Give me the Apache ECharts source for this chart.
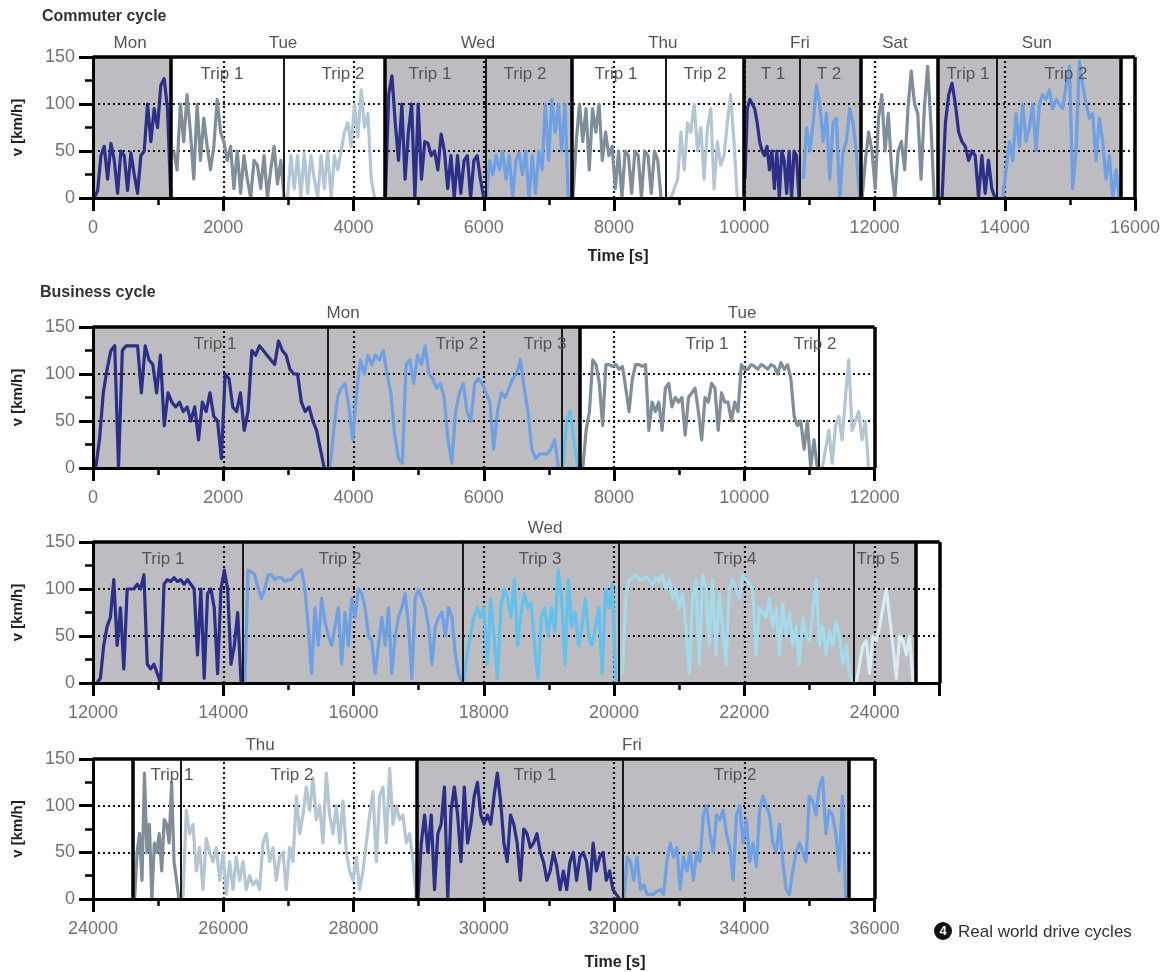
<!DOCTYPE html>
<html>
<head>
<meta charset="utf-8">
<script src="https://cdn.jsdelivr.net/npm/echarts@6/dist/echarts.min.js"></script>
<style>
  html, body { margin: 0; padding: 0; background: #ffffff; }
  #chart { width: 1168px; height: 972px; }
</style>
</head>
<body>
<div id="chart"></div>
<script>
// Vehicle speed (km/h) per trip. Each list is sampled evenly across its trip span (s).

// ---------- Commuter cycle ----------
const comMon   = [0,8,45,55,20,58,40,5,50,45,8,48,25,5,45,50,100,60,95,75,120,127,95,0];
const comTue1  = [50,30,100,60,110,70,20,100,40,85,55,30,55,105,70,60,40,55,10,50,5,45,20,0,40,35,10,45,0,30,55,15,40,0];
const comTue2  = [0,45,10,45,0,48,5,45,20,0,45,10,50,0,45,30,50,70,80,55,100,65,115,75,90,20,0];
const comWed1  = [0,110,130,80,40,100,20,70,100,0,100,20,60,58,45,50,30,68,50,10,45,0,45,5,40,45,0,40,45,20,0];
const comWed2  = [0,40,25,45,30,50,20,45,0,40,48,25,50,0,45,5,50,30,100,40,105,70,100,50,100,0];
const comThu1  = [0,60,100,60,95,30,95,70,100,40,70,45,55,10,50,0,50,45,5,50,45,0,50,45,5,50,40,0];
const comThu2  = [0,10,20,70,30,80,70,100,50,75,20,75,95,10,60,35,45,80,110,60,0];
const comFri1  = [20,95,105,100,95,80,60,50,45,55,30,50,10,50,0,50,40,5,50,0,50,45,0];
const comFri2  = [20,75,50,80,120,100,60,90,20,80,85,0,50,60,95,80,50,0];
const comSat   = [0,40,70,50,10,85,110,50,90,30,0,50,60,30,95,135,100,90,20,95,140,80,0];
const comSun1  = [0,80,110,122,100,70,60,55,40,50,45,0,45,5,40,10,0];
const comSun2  = [0,30,60,40,90,55,100,60,75,100,50,100,110,105,115,95,105,100,95,120,140,10,50,145,120,100,85,90,40,85,60,20,45,0,30,0];

const comSpans = [[20,1195],[1239,2935],[2987,4324],[4490,6000],[6040,7298],[7370,8722],
                  [8875,9893],[10010,10840],[10906,11771],[11810,12916],[13038,13852],[13969,15760]];
const comTraces = [comMon, comTue1, comTue2, comWed1, comWed2, comThu1, comThu2, comFri1, comFri2, comSat, comSun1, comSun2];
const comTones  = ['navy','grayDark','grayLight','navy','mid','grayDark','grayLight','navy','mid','grayDark','navy','mid'];

const comShaded   = [[0,1198],[4475,7355],[9990,11790],[12975,15785]];
const comDayLines = [1198, 4475, 7355, 9990, 11790, 12975, 15785];
const comTripLines = [2934, 6030, 8800, 10855, 13880];
const comDayLabels = [['Mon',570],['Tue',2917],['Wed',5911],['Thu',8750],['Fri',10855],['Sat',12314],['Sun',14494]];
const comTripLabels = [['Trip 1',1981],['Trip 2',3838],['Trip 1',5174],['Trip 2',6633],['Trip 1',8030],['Trip 2',9397],
                       ['T 1',10441],['T 2',11300],['Trip 1',13435],['Trip 2',14940]];

// ---------- Business cycle: Mon / Tue ----------
const busMonT1 = [0,30,80,105,125,130,0,125,130,130,130,130,80,130,115,110,80,120,45,80,70,65,70,60,65,50,65,30,70,60,
                  80,55,50,10,100,95,65,60,80,40,60,125,120,130,125,120,115,110,135,125,120,105,100,100,70,60,65,50,40,20,0];
const busMonT2 = [0,40,75,85,90,65,30,80,115,100,120,110,120,115,125,100,80,35,10,5,110,115,90,120,110,130,100,95,85,90,
                  75,30,5,60,80,90,60,50,90,95,90,80,70,20,60,80,75,85,95,100,115,85,60,20,10,15,15,15,20,30,0];
const busMonT3 = [0,50,60,30,0];
const busTueT1 = [0,40,60,115,110,90,45,110,110,108,110,105,108,85,60,95,110,110,108,110,40,70,60,70,40,85,90,65,75,70,75,
                  35,75,80,85,60,30,75,70,90,85,40,80,70,70,50,70,60,110,105,105,110,108,105,110,108,105,110,108,100,112,
                  105,110,95,55,45,50,20,50,0,30,0];
const busTueT2 = [0,20,40,5,45,55,30,75,115,40,50,60,30,50,0];

const bus1Spans  = [[41,3550],[3637,7146],[7215,7440],[7520,11120],[11196,11908]];
const bus1Traces = [busMonT1, busMonT2, busMonT3, busTueT1, busTueT2];
const bus1Tones  = ['navy','mid','cyan','grayDark','grayLight'];
const bus1Shaded = [[0,7480]];
const bus1DayLines = [7480];
const bus1TripLines = [3600, 7200, 11150];
const bus1DayLabels = [['Mon',3840],['Tue',9965]];
const bus1TripLabels = [['Trip 1',1873],['Trip 2',5589],['Trip 3',6940],['Trip 1',9427],['Trip 2',11086]];

// ---------- Business cycle: Wed ----------
const busWedT1 = [0,5,40,60,70,110,40,80,15,100,100,100,105,100,115,20,15,20,10,0,105,110,108,112,108,110,105,110,105,100,
                  30,100,5,95,100,80,10,100,120,100,20,40,75,0];
const busWedT2 = [0,120,118,115,100,90,100,115,115,110,112,112,108,110,110,115,118,120,100,60,10,80,40,90,65,50,40,60,80,20,75,
                  40,90,70,100,95,80,50,45,10,40,70,40,80,10,50,70,80,95,60,5,90,100,90,80,60,20,60,70,75,50,80,70,30,10,0];
const busWedT3 = [0,30,50,70,80,70,80,20,90,50,5,80,100,90,70,110,40,75,95,80,85,40,5,70,80,
                  50,80,55,120,90,20,110,60,75,40,60,90,50,40,60,80,10,100,80,105,0];
const busWedT4 = [10,90,110,112,115,110,110,113,110,105,112,108,115,100,110,90,100,80,95,60,10,90,110,20,115,100,40,110,30,95,
                  60,20,100,110,100,90,115,110,105,100,30,80,75,70,90,60,80,30,85,50,75,40,60,20,70,50,45,75,110,40,
                  60,30,55,40,65,50,20,40,10,0];
const busWedT5 = [0,20,40,45,10,50,45,60,80,100,70,40,5,50,45,30,50,0];

const bus2Spans  = [[12062,14273],[14330,17666],[17690,20026],[20128,23667],[23718,24590]];
const bus2Traces = [busWedT1, busWedT2, busWedT3, busWedT4, busWedT5];
const bus2Tones  = ['navy','mid','cyan','paleCyan','mist'];
const bus2Shaded = [[12000,24630]];
const bus2DayLines = [24630];
const bus2TripLines = [14300, 17670, 20065, 23675];
const bus2DayLabels = [['Wed',18940]];
const bus2TripLabels = [['Trip 1',13075],['Trip 2',15792],['Trip 3',18863],['Trip 4',21857],['Trip 5',24053]];

// ---------- Business cycle: Thu / Fri ----------
const busThuT1 = [0,50,70,20,135,50,80,0,60,50,70,30,85,80,60,125,40,20,0];
const busThuT2 = [0,95,70,80,30,55,10,65,50,40,55,20,50,5,40,10,45,20,40,10,25,15,20,10,60,70,40,55,20,45,
                  50,10,55,40,110,70,90,120,95,130,85,100,60,135,90,70,100,60,105,50,30,20,45,10,30,60,90,115,40,110,
                  120,60,140,80,100,85,90,60,70,40,0];
const busFriT1 = [0,60,90,50,90,10,70,80,120,0,95,120,90,40,120,60,80,110,125,90,80,90,80,110,135,105,60,40,90,80,60,
                  20,75,70,55,60,70,50,40,20,30,50,35,10,30,10,40,50,20,45,50,40,10,60,30,45,50,20,30,10,5,0];
const busFriT2 = [0,45,40,20,45,10,15,5,5,5,8,10,5,40,60,45,55,10,45,30,50,20,50,40,90,100,70,50,90,85,95,
                  70,55,20,90,100,60,85,40,60,35,95,110,100,90,60,50,80,40,10,5,30,50,60,50,40,110,105,90,120,130,
                  70,95,90,70,30,110,0];

const bus3Spans  = [[24639,25320],[25381,28964],[28990,32084],[32150,35557]];
const bus3Traces = [busThuT1, busThuT2, busFriT1, busFriT2];
const bus3Tones  = ['grayDark','grayLight','navy','mid'];
const bus3Shaded = [[28977,35600]];
const bus3DayLines = [24614, 28977, 35600];
const bus3TripLines = [25350, 32140];
const bus3DayLabels = [['Thu',26565],['Fri',32275]];
const bus3TripLabels = [['Trip 1',25213],['Trip 2',27055],['Trip 1',30786],['Trip 2',33857]];

// Speed axis and reference grid values
const speedTicks = [0, 50, 100, 150];
const speedGrid = [50, 100];

// ---------- styling ----------
const FONT = '"Liberation Sans", "DejaVu Sans", sans-serif';
const SHADE = '#bdbcc0';
const TONES = {
  navy: '#2b2f88',
  mid: '#6ea0e4',
  cyan: '#62c1ee',
  paleCyan: '#a3dbea',
  mist: '#d9ecf4',
  grayDark: '#7f8e99',
  grayLight: '#b4c6d4'
};

const panels = [
  { box: { left: 93, top: 57, width: 1042, height: 141 }, min: 0, max: 16000,
    spans: comSpans, traces: comTraces, tones: comTones, shaded: comShaded,
    dayLines: comDayLines, tripLines: comTripLines, dayLabels: comDayLabels, tripLabels: comTripLabels },
  { box: { left: 93, top: 327, width: 781.6, height: 141 }, min: 0, max: 12000,
    spans: bus1Spans, traces: bus1Traces, tones: bus1Tones, shaded: bus1Shaded,
    dayLines: bus1DayLines, tripLines: bus1TripLines, dayLabels: bus1DayLabels, tripLabels: bus1TripLabels },
  { box: { left: 93, top: 542, width: 846.7, height: 141 }, min: 12000, max: 25000, hideMax: true,
    spans: bus2Spans, traces: bus2Traces, tones: bus2Tones, shaded: bus2Shaded,
    dayLines: bus2DayLines, tripLines: bus2TripLines, dayLabels: bus2DayLabels, tripLabels: bus2TripLabels },
  { box: { left: 93, top: 759, width: 781.6, height: 140 }, min: 24000, max: 36000,
    spans: bus3Spans, traces: bus3Traces, tones: bus3Tones, shaded: bus3Shaded,
    dayLines: bus3DayLines, tripLines: bus3TripLines, dayLabels: bus3DayLabels, tripLabels: bus3TripLabels }
];

function trace(span, values) {
  const t0 = span[0], t1 = span[1], n = values.length;
  return values.map((v, i) => [t0 + (t1 - t0) * i / (n - 1), v]);
}

const grids = [], xAxes = [], yAxes = [], series = [];
const dotted = { color: '#111', width: 2.2, type: [2, 3] };

panels.forEach((p, i) => {
  grids.push(Object.assign({ containLabel: false }, p.box));

  xAxes.push({
    gridIndex: i, type: 'value', min: p.min, max: p.max, interval: 2000, z: 6,
    axisLine: { onZero: false, lineStyle: { color: '#000', width: 3 } },
    axisTick: { length: 13, lineStyle: { color: '#000', width: 3 } },
    minorTick: { show: true, splitNumber: 2, length: 7, lineStyle: { color: '#000', width: 2.5 } },
    axisLabel: { margin: 21, fontSize: 18, color: '#727272', fontFamily: FONT,
                 showMaxLabel: !p.hideMax, formatter: v => String(v) },
    splitLine: { show: false }
  });

  yAxes.push({
    gridIndex: i, type: 'value', min: speedTicks[0], max: speedTicks[speedTicks.length - 1], interval: 50, z: 6,
    name: 'v [km/h]', nameLocation: 'middle', nameGap: 68, nameRotate: 90,
    nameTextStyle: { fontWeight: 'bold', fontSize: 15, color: '#222', fontFamily: FONT },
    axisLine: { show: true, onZero: false, lineStyle: { color: '#000', width: 3 } },
    axisTick: { show: true, length: 14, lineStyle: { color: '#000', width: 3 } },
    minorTick: { show: true, splitNumber: 2, length: 8, lineStyle: { color: '#000', width: 2.5 } },
    axisLabel: { margin: 18, fontSize: 18, color: '#727272', fontFamily: FONT },
    splitLine: { show: false }
  });

  // shaded days, with the dotted reference grid laid over the shading
  const vGrid = [];
  for (let t = p.min + 2000; t < p.max; t += 2000) vGrid.push(t);
  const gridLines = [];
  speedGrid.forEach(v => gridLines.push({ yAxis: v, lineStyle: dotted }));
  vGrid.forEach(t => gridLines.push({ xAxis: t, lineStyle: dotted }));

  series.push({
    type: 'line', xAxisIndex: i, yAxisIndex: i, data: [], silent: true,
    markArea: {
      silent: true, z: 1, itemStyle: { color: SHADE },
      data: p.shaded.map(s => [{ xAxis: s[0] }, { xAxis: s[1] }])
    },
    markLine: {
      silent: true, z: 2, symbol: ['none', 'none'], label: { show: false }, animation: false,
      data: gridLines
    }
  });

  // speed traces
  p.traces.forEach((vals, k) => {
    series.push({
      type: 'line', xAxisIndex: i, yAxisIndex: i, z: 3,
      data: trace(p.spans[k], vals), showSymbol: false, symbol: 'none',
      lineStyle: { color: TONES[p.tones[k]], width: 3.2, join: 'round' },
      silent: true, animation: false
    });
  });

  // trip and day separators, outer frame, trip captions
  const lines = [];
  p.tripLines.forEach(t => lines.push({ xAxis: t, lineStyle: { color: '#1a1a1a', width: 2, type: 'solid' } }));
  p.dayLines.forEach(t => lines.push({ xAxis: t, lineStyle: { color: '#000', width: 3.5, type: 'solid' } }));
  lines.push({ yAxis: 150, lineStyle: { color: '#000', width: 3.5, type: 'solid' } });
  lines.push({ xAxis: p.max, lineStyle: { color: '#000', width: 3.5, type: 'solid' } });

  series.push({
    type: 'line', xAxisIndex: i, yAxisIndex: i, data: [], silent: true,
    markLine: {
      silent: true, z: 5, symbol: ['none', 'none'], label: { show: false }, animation: false,
      data: lines
    },
    markPoint: {
      silent: true, symbol: 'circle', symbolSize: 0, animation: false,
      label: { show: true, position: 'inside', formatter: '{b}', color: '#555', fontSize: 17, fontFamily: FONT },
      data: p.tripLabels.map(([name, t]) => ({ name: name, coord: [t, 132] }))
    }
  });
});

const chart = echarts.init(document.getElementById('chart'), null, { renderer: 'canvas' });
chart.setOption({
  backgroundColor: '#ffffff',
  animation: false,
  grid: grids, xAxis: xAxes, yAxis: yAxes, series: series
});

// day names above each panel, placed through the axis scales
const elements = [];
panels.forEach((p, i) => {
  p.dayLabels.forEach(([name, t]) => {
    const pt = chart.convertToPixel({ xAxisIndex: i, yAxisIndex: i }, [t, 150]);
    elements.push({ type: 'text', x: pt[0], y: pt[1] - 14,
      style: { text: name, fill: '#555', font: '17px ' + FONT, align: 'center', verticalAlign: 'middle' } });
  });
});
elements.push(
  { type: 'text', x: 42, y: 17, style: { text: 'Commuter cycle', fill: '#333', font: 'bold 16px ' + FONT, verticalAlign: 'middle' } },
  { type: 'text', x: 40, y: 293, style: { text: 'Business cycle', fill: '#333', font: 'bold 16px ' + FONT, verticalAlign: 'middle' } },
  { type: 'text', x: 618, y: 257, style: { text: 'Time [s]', fill: '#222', font: 'bold 16px ' + FONT, align: 'center', verticalAlign: 'middle' } },
  { type: 'text', x: 615, y: 963, style: { text: 'Time [s]', fill: '#222', font: 'bold 16px ' + FONT, align: 'center', verticalAlign: 'middle' } },
  { type: 'circle', shape: { cx: 943, cy: 931, r: 9 }, style: { fill: '#111' } },
  { type: 'text', x: 943, y: 931.5, style: { text: '4', fill: '#fff', font: 'bold 13px ' + FONT, align: 'center', verticalAlign: 'middle' } },
  { type: 'text', x: 958, y: 932, style: { text: 'Real world drive cycles', fill: '#333', font: '17px ' + FONT, verticalAlign: 'middle' } }
);
chart.setOption({ graphic: { elements: elements } });
</script>
</body>
</html>
